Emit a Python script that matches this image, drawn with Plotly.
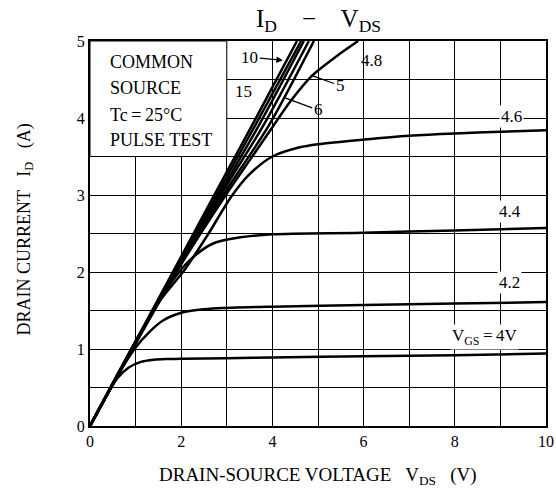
import plotly.graph_objects as go

# ---- data ----
vgs_15_x = [0, 1, 2, 3, 3.55, 4.54]
vgs_15_y = [0, 1.1, 2.2, 3.3, 3.9, 5.0]
vgs_10_x = [0, 1, 2, 3, 3.62, 4.63]
vgs_10_y = [0, 1.09, 2.17, 3.24, 3.9, 5.0]
vgs_8_x = [0, 1, 2, 3, 3.7, 4.69]
vgs_8_y = [0, 1.08, 2.15, 3.18, 3.9, 5.0]
vgs_6_x = [0, 1, 2, 3, 3.8, 4.80]
vgs_6_y = [0, 1.08, 2.13, 3.13, 3.9, 5.0]
vgs_5_x = [0, 1, 2, 3, 3.92, 4.91]
vgs_5_y = [0, 1.08, 2.12, 3.07, 3.9, 5.0]
vgs_48_x = [0, 1, 2, 3, 3.5, 4.0, 4.4, 4.87, 5.4, 5.88]
vgs_48_y = [0, 1.07, 2.1, 3.02, 3.45, 3.88, 4.22, 4.55, 4.8, 5.0]
vgs_46_x = [0, 0.5, 1, 1.5, 2.1, 2.6, 3.1, 3.5, 4.0, 4.6, 5, 6, 7, 8, 9, 10]
vgs_46_y = [0, 0.56, 1.1, 1.6, 2.05, 2.5, 2.98, 3.27, 3.5, 3.62, 3.66, 3.72, 3.77, 3.8, 3.82, 3.84]
vgs_44_x = [0, 0.5, 1, 1.5, 1.8, 2.2, 2.7, 3.3, 4, 6, 8, 10]
vgs_44_y = [0, 0.55, 1.1, 1.6, 1.88, 2.16, 2.37, 2.45, 2.49, 2.51, 2.54, 2.57]
vgs_42_x = [0, 0.5, 1.0, 1.3, 1.6, 2.0, 2.4, 2.8, 4, 6, 8, 10]
vgs_42_y = [0, 0.55, 1.02, 1.22, 1.37, 1.47, 1.51, 1.53, 1.55, 1.57, 1.59, 1.61]
vgs_40_x = [0, 0.3, 0.6, 0.85, 1.1, 1.4, 1.7, 2, 3, 4, 6, 8, 10]
vgs_40_y = [0, 0.33, 0.62, 0.76, 0.83, 0.86, 0.87, 0.875, 0.88, 0.89, 0.905, 0.92, 0.94]

curves = [
    ("15", vgs_15_x, vgs_15_y), ("10", vgs_10_x, vgs_10_y), ("8", vgs_8_x, vgs_8_y),
    ("6", vgs_6_x, vgs_6_y), ("5", vgs_5_x, vgs_5_y), ("4.8", vgs_48_x, vgs_48_y),
    ("4.6", vgs_46_x, vgs_46_y), ("4.4", vgs_44_x, vgs_44_y), ("4.2", vgs_42_x, vgs_42_y),
    ("4", vgs_40_x, vgs_40_y),
]

FONT = "Liberation Serif"
fig = go.Figure()
for name, xs, ys in curves:
    fig.add_trace(go.Scatter(x=xs, y=ys, mode="lines", name=name,
                             line=dict(color="black", width=2.5, shape="spline", smoothing=0.8),
                             hoverinfo="skip"))

# white box behind the conditions text
fig.add_shape(type="rect", x0=0, x1=3.0, y0=3.5, y1=5, xref="x", yref="y",
              fillcolor="white", line=dict(width=1, color="black"), layer="between")

cond = ["COMMON", "SOURCE", "Tc\u2009=\u200925°C", "PULSE TEST"]
cond_y = [4.73, 4.39, 4.04, 3.71]
annos = []
for t, yv in zip(cond, cond_y):
    annos.append(dict(x=0.39, y=yv, xref="x", yref="y", text=t, showarrow=False,
                      xanchor="left", yanchor="middle", font=dict(family=FONT, size=18, color="black")))

lab_font = dict(family=FONT, size=17, color="black")
annos += [
    dict(x=4.23, y=4.75, text="10", showarrow=True, ax=-33, ay=-3, arrowhead=2, arrowsize=1,
         arrowwidth=1.3, arrowcolor="black", font=lab_font),
    dict(x=3.36, y=4.35, text="15", showarrow=False, font=lab_font, yanchor="middle"),
    dict(x=4.28, y=4.26, text="6", showarrow=True, ax=33, ay=12, arrowhead=0,
         arrowwidth=1.3, arrowcolor="black", font=lab_font),
    dict(x=4.87, y=4.55, text="5", showarrow=True, ax=28, ay=10, arrowhead=0,
         arrowwidth=1.3, arrowcolor="black", font=lab_font),
    dict(x=6.18, y=4.75, text="4.8", showarrow=False, font=lab_font, yanchor="middle"),
    dict(x=9.25, y=4.02, text="4.6", showarrow=False, font=lab_font, bgcolor="white", yanchor="middle"),
    dict(x=9.2, y=2.78, text="4.4", showarrow=False, font=lab_font, bgcolor="white", yanchor="middle"),
    dict(x=9.2, y=1.86, text="4.2", showarrow=False, font=lab_font, bgcolor="white", yanchor="middle"),
    dict(x=8.66, y=1.16, text="V<sub>GS</sub>\u2009=\u20094V", showarrow=False, font=lab_font,
         bgcolor="white", yanchor="middle"),
    # titles
    dict(x=0.5, y=1.0, xref="paper", yref="paper", yshift=21, xanchor="center", yanchor="middle",
         text="I<sub>D</sub>    \u2212    V<sub>DS</sub>",
         showarrow=False, font=dict(family=FONT, size=25, color="black")),
    dict(x=0.5, y=0, xref="paper", yref="paper", yshift=-50, xanchor="center", yanchor="middle",
         text="DRAIN-SOURCE VOLTAGE   V<sub>DS</sub>   (V)", showarrow=False,
         font=dict(family=FONT, size=19, color="black")),
    dict(x=0, y=0.5, xref="paper", yref="paper", xshift=-65, yshift=4, textangle=-90,
         xanchor="center", yanchor="middle",
         text="DRAIN CURRENT   I<sub>D</sub>   (A)", showarrow=False,
         font=dict(family=FONT, size=18, color="black")),
]

fig.update_layout(
    width=556, height=494,
    margin=dict(l=90, r=10, t=41, b=68, autoexpand=False),
    paper_bgcolor="white", plot_bgcolor="white",
    showlegend=False,
    annotations=annos,
    font=dict(family=FONT, size=16, color="black"),
)
fig.update_xaxes(range=[0, 10], dtick=2, tick0=0, showgrid=True, gridcolor="black", gridwidth=1,
                 minor=dict(dtick=1, showgrid=True, gridcolor="black", gridwidth=1),
                 showline=True, linecolor="black", linewidth=2, mirror=True, automargin=False,
                 ticks="", zeroline=False, tickfont=dict(family=FONT, size=16))
fig.update_yaxes(range=[0, 5], dtick=1, tick0=0, showgrid=True, gridcolor="black", gridwidth=1,
                 minor=dict(dtick=0.5, showgrid=True, gridcolor="black", gridwidth=1),
                 showline=True, linecolor="black", linewidth=2, mirror=True, automargin=False,
                 ticks="", zeroline=False, tickfont=dict(family=FONT, size=16))

fig.write_html("out.html", config={"displayModeBar": False},
               post_script="document.body.style.margin='0';document.body.style.overflow='hidden';")
